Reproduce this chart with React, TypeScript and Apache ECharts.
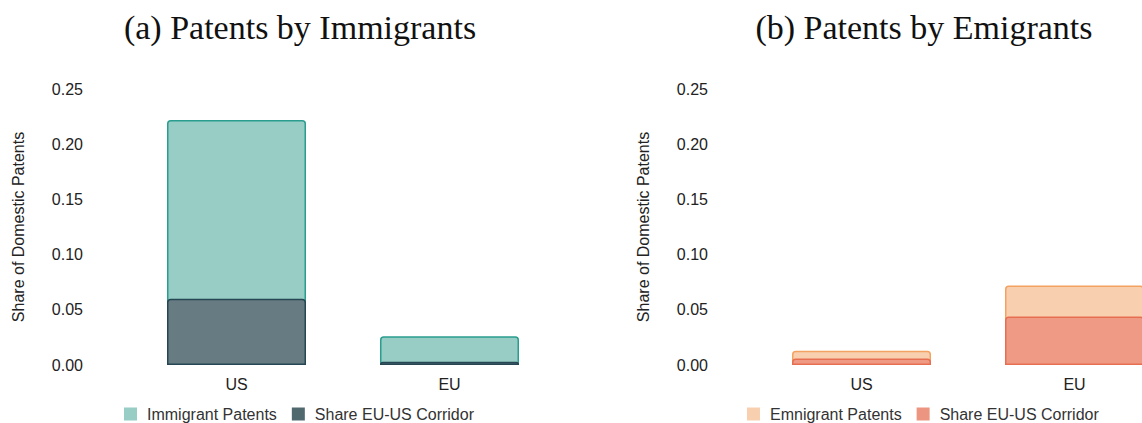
import { useEffect, useRef } from "react";
import * as echarts from "echarts";

// categories and values
const categories = ["US", "EU"];
const immigrantPatents = [0.222, 0.026];
const immigrantCorridor = [0.06, 0.003];
const emigrantPatents = [0.013, 0.072];
const emigrantCorridor = [0.006, 0.044];
const yTicks = [0, 0.05, 0.1, 0.15, 0.2, 0.25];

const FONT = "Liberation Sans, Arial, sans-serif";

export default function App() {
  const chartRef = useRef<HTMLDivElement>(null);

  useEffect(() => {
    if (!chartRef.current) return;
    const chart = echarts.init(chartRef.current, null, { renderer: "svg" });

    const yAxis = (gridIndex: number) => ({
      gridIndex,
      type: "value",
      min: yTicks[0],
      max: yTicks[yTicks.length - 1],
      interval: 0.05,
      name: "Share of Domestic Patents",
      nameLocation: "middle",
      nameRotate: 90,
      nameGap: 104,
      nameTextStyle: { fontSize: 16, color: "#222", fontFamily: FONT },
      axisLine: { show: false },
      axisTick: { show: false },
      splitLine: { show: false },
      axisLabel: {
        fontSize: 16,
        color: "#222",
        fontFamily: FONT,
        margin: 47,
        formatter: (v: number) => v.toFixed(2),
      },
    });

    const xAxis = (gridIndex: number) => ({
      gridIndex,
      type: "category",
      data: categories,
      axisLine: { show: false },
      axisTick: { show: false },
      axisLabel: { fontSize: 16, color: "#222", fontFamily: FONT, margin: 11 },
    });

    const bar = (
      name: string,
      data: number[],
      idx: number,
      fill: string,
      border: string
    ) => ({
      name,
      type: "bar",
      xAxisIndex: idx,
      yAxisIndex: idx,
      data,
      barWidth: 139,
      barGap: "-100%",
      itemStyle: {
        color: fill,
        borderColor: border,
        borderWidth: 1.5,
        borderRadius: [3, 3, 0, 0],
      },
    });

    const legendText = {
      fontSize: 16,
      color: "#333",
      fontFamily: FONT,
      padding: [0, 0, 0, 5],
    };

    chart.setOption({
      animation: false,
      backgroundColor: "#fff",
      graphic: [
        {
          type: "text",
          x: 300,
          y: 10,
          style: {
            text: "(a) Patents by Immigrants",
            font: "34px 'Liberation Serif', serif",
            fill: "#111",
            textAlign: "center",
          },
        },
        {
          type: "text",
          x: 924,
          y: 10,
          style: {
            text: "(b) Patents by Emigrants",
            font: "34px 'Liberation Serif', serif",
            fill: "#111",
            textAlign: "center",
          },
        },
      ],
      grid: [
        { left: 130, width: 426, top: 89, height: 276 },
        { left: 755, width: 426, top: 89, height: 276 },
      ],
      xAxis: [xAxis(0), xAxis(1)],
      yAxis: [yAxis(0), yAxis(1)],
      legend: [
        {
          data: [
            { name: "Immigrant Patents", itemStyle: { color: "#97cdc5", borderWidth: 0 } },
            { name: "Share EU-US Corridor", itemStyle: { color: "#50696f", borderWidth: 0 } },
          ],
          icon: "rect",
          left: 124,
          top: 406,
          padding: 0,
          itemWidth: 13,
          itemHeight: 13,
          itemGap: 15,
          textStyle: legendText,
        },
        {
          data: [
            { name: "Emnigrant Patents", itemStyle: { color: "#f8d0b0", borderWidth: 0 } },
            { name: "Share EU-US Corridor ", itemStyle: { color: "#ec9580", borderWidth: 0 } },
          ],
          icon: "rect",
          left: 747,
          top: 406,
          padding: 0,
          itemWidth: 13,
          itemHeight: 13,
          itemGap: 15,
          textStyle: legendText,
        },
      ],
      series: [
        bar("Immigrant Patents", immigrantPatents, 0, "#97cdc5", "#2a9d8f"),
        bar("Share EU-US Corridor", immigrantCorridor, 0, "#677c82", "#264653"),
        bar("Emnigrant Patents", emigrantPatents, 1, "#f8d0b0", "#f4a261"),
        bar("Share EU-US Corridor ", emigrantCorridor, 1, "#ee9a85", "#e76f51"),
      ],
    });

    return () => chart.dispose();
  }, []);

  return (
    <div
      style={{
        position: "fixed",
        top: 0,
        left: 0,
        width: 1142,
        height: 423,
        overflow: "hidden",
        background: "#fff",
      }}
    >
      <div ref={chartRef} style={{ width: 1200, height: 423 }} />
    </div>
  );
}
